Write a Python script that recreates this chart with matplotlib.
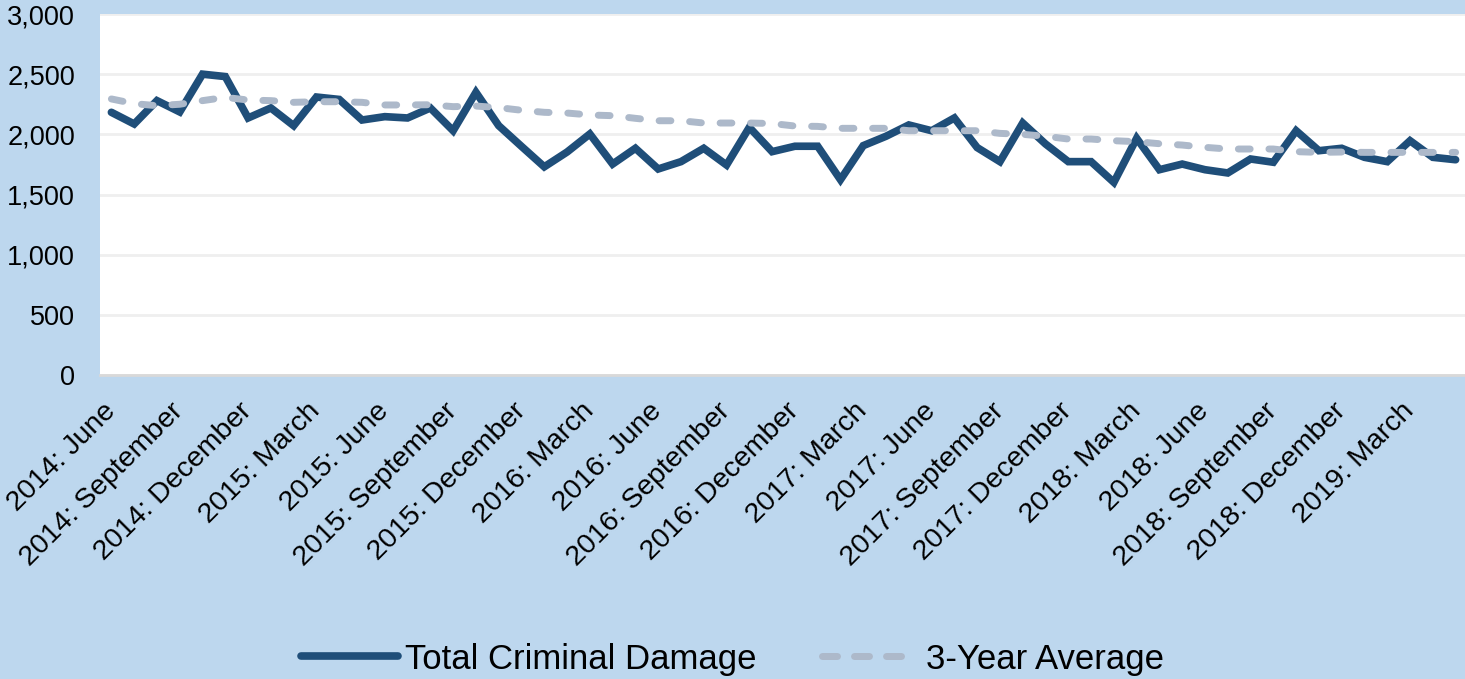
import numpy as np
import matplotlib
matplotlib.use("Agg")
import matplotlib.pyplot as plt
from matplotlib import rcParams

rcParams['font.family'] = ['Liberation Sans', 'DejaVu Sans']

years = [2014] * 7 + [2015] * 12 + [2016] * 12 + [2017] * 12 + [2018] * 12 + [2019] * 5
month_names = ["January", "February", "March", "April", "May", "June", "July",
               "August", "September", "October", "November", "December"]
months = month_names[5:] + month_names * 4 + month_names[:5]
categories = [f"{y}: {m}" for y, m in zip(years, months)]

total_damage = [2183, 2086, 2280, 2186, 2500, 2480, 2136, 2219, 2072, 2310,
                2290, 2119, 2147, 2136, 2219, 2030, 2349, 2072, 1900, 1730,
                1853, 2003, 1753, 1884, 1712, 1773, 1884, 1745, 2058, 1856,
                1901, 1901, 1623, 1906, 1984, 2078, 2030, 2136, 1890, 1773,
                2094, 1920, 1773, 1773, 1601, 1967, 1706, 1753, 1706, 1679,
                1795, 1768, 2030, 1864, 1884, 1809, 1773, 1947, 1809, 1789]

three_year_avg = [2294, 2255, 2238, 2250, 2280, 2307, 2285, 2280, 2266, 2271,
                  2271, 2266, 2244, 2244, 2246, 2230, 2235, 2222, 2200, 2183,
                  2177, 2161, 2155, 2133, 2113, 2113, 2094, 2094, 2094, 2090,
                  2069, 2066, 2050, 2050, 2050, 2030, 2030, 2030, 2030, 2008,
                  2000, 1984, 1961, 1961, 1947, 1939, 1922, 1911, 1892, 1878,
                  1878, 1878, 1856, 1850, 1853, 1850, 1850, 1850, 1850, 1850]

bg = '#BDD7EE'
fig = plt.figure(figsize=(14.65, 6.79), dpi=100, facecolor=bg)
ax = fig.add_axes([100 / 1465, 1 - 375 / 679, 1367 / 1465, 361 / 679])
ax.set_facecolor('white')

x = np.arange(len(categories))
ax.plot(x, total_damage, color='#1F4E79', lw=5.5, solid_joinstyle='miter',
        solid_capstyle='round', label='Total Criminal Damage', zorder=3)
ax.plot(x, three_year_avg, color='#ADB9CA', lw=5, linestyle=(0, (1.7, 2.7)),
        dash_capstyle='round', label='3-Year Average', zorder=4)

ax.set_xlim(-0.5, len(categories) - 0.5)
ax.set_ylim(0, 3000)
ax.set_yticks(np.arange(0, 3001, 500))
ax.set_yticklabels([f"{v:,}" for v in range(0, 3001, 500)], fontsize=19.5)
ax.set_xticks(x[::3])
ax.set_xticklabels(categories[::3], fontsize=20.5, rotation=45, ha='right',
                   va='center', rotation_mode='anchor')
ax.tick_params(axis='both', length=0)
ax.tick_params(axis='y', pad=18)
ax.tick_params(axis='x', pad=23)
ax.grid(axis='y', color='#EFEFEF', lw=2)
ax.set_axisbelow(True)
for s in ['top', 'right', 'left']:
    ax.spines[s].set_visible(False)
ax.spines['bottom'].set_color('#D9D9D9')
ax.spines['bottom'].set_linewidth(2)

leg = fig.legend(loc='center', bbox_to_anchor=(0.5, 1 - 659 / 679), ncol=2,
                 frameon=False, fontsize=25, handlelength=2.8, handletextpad=0.2,
                 columnspacing=1.9)
# three dashes in the legend key, like the original
leg.get_lines()[1].set_linestyle((0, (2.16, 2.45, 2.16, 2.45, 2.16, 7.2)))

fig.savefig('out.png', dpi=100, facecolor=bg)
